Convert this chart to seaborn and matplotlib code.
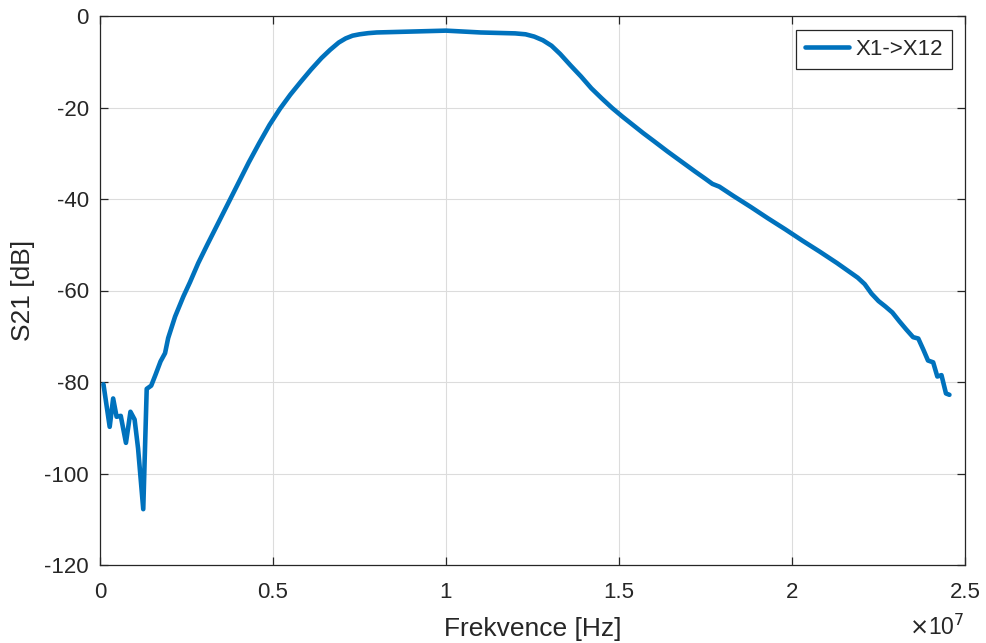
import numpy as np
import pandas as pd
import matplotlib
matplotlib.use("Agg")
import matplotlib.pyplot as plt
import seaborn as sns

# Data (frequency in MHz, S21 in dB)
freq_mhz = [0.1, 0.28, 0.38, 0.48, 0.6, 0.75, 0.88, 1.0, 1.1, 1.25, 1.35, 1.48, 1.6, 1.75,
            1.88, 1.97, 2.17, 2.41, 2.6, 2.84, 3.1, 3.4, 3.7, 4.0, 4.3, 4.6, 4.9, 5.2, 5.5,
            5.8, 6.1, 6.4, 6.65, 6.9, 7.1, 7.3, 7.5, 7.75, 8.0, 8.5, 9.0, 9.5, 10.0, 10.5,
            11.0, 11.5, 12.0, 12.3, 12.55, 12.8, 13.05, 13.3, 13.6, 13.9, 14.2, 14.5, 14.8,
            15.1, 15.4, 15.7, 16.0, 16.4, 16.8, 17.2, 17.5, 17.7, 17.9, 18.3, 18.8, 19.3,
            19.8, 20.3, 20.8, 21.3, 21.6, 21.9, 22.1, 22.3, 22.5, 22.7, 22.9, 23.1, 23.3,
            23.5, 23.65, 23.8, 23.93, 24.08, 24.2, 24.32, 24.45, 24.55]
s21_db = [-80.5, -89.8, -83.6, -87.6, -87.4, -93.3, -86.5, -88.2, -94.5, -107.8, -81.5,
          -80.8, -78.5, -75.5, -73.7, -70.4, -65.7, -61.3, -58.2, -54.0, -50.0, -45.5,
          -41.0, -36.5, -32.0, -27.8, -23.8, -20.3, -17.2, -14.4, -11.7, -9.2, -7.4,
          -5.8, -4.9, -4.3, -4.0, -3.75, -3.6, -3.5, -3.4, -3.3, -3.2, -3.4, -3.6, -3.7,
          -3.8, -4.0, -4.5, -5.3, -6.5, -8.3, -10.8, -13.2, -15.8, -18.0, -20.1, -22.0,
          -23.8, -25.6, -27.3, -29.6, -31.8, -34.0, -35.6, -36.7, -37.3, -39.3, -41.7,
          -44.2, -46.6, -49.1, -51.5, -54.0, -55.6, -57.2, -58.6, -60.7, -62.3, -63.5,
          -64.8, -66.7, -68.5, -70.2, -70.5, -73.0, -75.3, -75.7, -78.8, -78.5, -82.5,
          -82.8]
series_name = "X1->X12"
x_ticks = [0, 0.5e7, 1e7, 1.5e7, 2e7, 2.5e7]
x_tick_labels = ["0", "0.5", "1", "1.5", "2", "2.5"]
y_ticks = [-120, -100, -80, -60, -40, -20, 0]

df = pd.DataFrame({"Frekvence": np.array(freq_mhz) * 1e6, "S21": s21_db, "serie": series_name})

sns.set_style("whitegrid")
plt.rcParams["font.family"] = ["Liberation Sans", "DejaVu Sans"]
plt.rcParams["axes.unicode_minus"] = False

fig = plt.figure(figsize=(9.87, 6.43), dpi=100)
ax = fig.add_axes([100 / 987, 1 - 565 / 643, 865 / 987, 549 / 643])

sns.lineplot(data=df, x="Frekvence", y="S21", hue="serie", palette=["#0072BD"],
             linewidth=3.3, ax=ax, sort=False)

ax.set_xlim(0, 2.5e7)
ax.set_ylim(-120, 0)
ax.set_xticks(x_ticks)
ax.set_xticklabels(x_tick_labels)
ax.set_yticks(y_ticks)
ax.set_yticklabels([str(v) for v in y_ticks])

ax.grid(True, color="#dcdcdc", linewidth=0.8)
for s in ax.spines.values():
    s.set_visible(True)
    s.set_color("#262626")
    s.set_linewidth(0.9)
ax.tick_params(axis="both", direction="in", length=6, width=0.9, color="#262626",
               labelsize=16, labelcolor="#262626", top=True, right=True,
               bottom=True, left=True)
ax.tick_params(axis="x", pad=12)
ax.tick_params(axis="y", pad=8)

ax.set_xlabel("Frekvence [Hz]", fontsize=19, color="#262626", labelpad=10)
ax.set_ylabel("S21 [dB]", fontsize=19, color="#262626", labelpad=7)

ax.text(1.0, -0.09, r"$\times$10$^{7}$", transform=ax.transAxes, ha="right", va="top",
        fontsize=16.5, color="#262626")

leg = ax.legend(loc="upper right", bbox_to_anchor=(0.985, 0.975), fontsize=16,
                frameon=True, fancybox=False, edgecolor="#262626", framealpha=1,
                handlelength=2.0, borderpad=0.4, handletextpad=0.3, borderaxespad=0)
leg.get_frame().set_linewidth(0.9)

fig.savefig("out.png", dpi=100)
